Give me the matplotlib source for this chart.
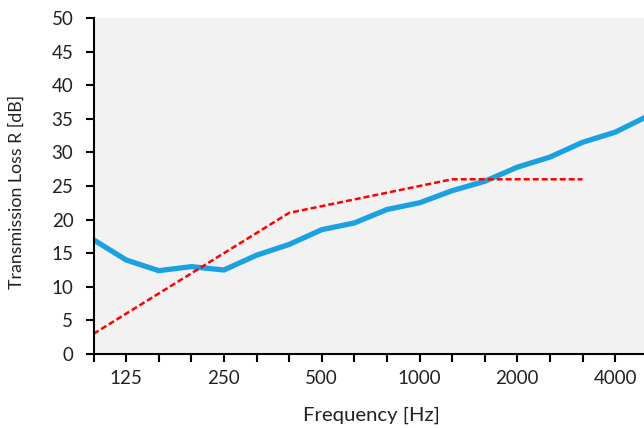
import matplotlib
matplotlib.use("Agg")
import matplotlib.pyplot as plt
import numpy as np

plt.rcParams['font.family'] = ['Lato', 'DejaVu Sans']

# third-octave bands
bands = [100, 125, 160, 200, 250, 315, 400, 500, 630, 800,
         1000, 1250, 1600, 2000, 2500, 3150, 4000, 5000]
measured = [17.0, 14.0, 12.4, 13.0, 12.5, 14.7, 16.3, 18.5, 19.5, 21.5,
            22.5, 24.3, 25.7, 27.8, 29.3, 31.5, 33.0, 35.4]
# shifted reference curve, 100 .. 3150 Hz
reference = [3, 6, 9, 12, 15, 18, 21, 22, 23, 24, 25, 26, 26, 26, 26, 26]

label_bands = [125, 250, 500, 1000, 2000, 4000]

fig = plt.figure(figsize=(6.44, 4.28), dpi=100)
# the plot area runs a bit past the right edge, like in the original
x0, step = 93.5, 32.6
left, bottom, top = x0 / 644, (428 - 354) / 428, (428 - 18) / 428
width = 17 * step / 644
ax = fig.add_axes([left, bottom, width, top - bottom])
ax.set_facecolor('#f2f2f2')

x = np.arange(len(bands))
ax.plot(x, measured, color='#1ba1e2', lw=3.8, solid_joinstyle='miter', zorder=3)
ax.plot(x[:len(reference)], reference, color='#ff0000', lw=1.8, ls=(0, (2.4, 1.2)), zorder=4)

ax.set_xlim(0, len(bands) - 1)
ax.set_ylim(0, 50)
ax.set_yticks(np.arange(0, 51, 5))
ax.set_xticks(x)
ax.set_xticklabels([str(b) if b in label_bands else '' for b in bands])

for s in ['top', 'right']:
    ax.spines[s].set_visible(False)
for s in ['left', 'bottom']:
    ax.spines[s].set_linewidth(1.5)
    ax.spines[s].set_color('black')
    ax.spines[s].set_zorder(5)

ax.tick_params(axis='both', direction='out', length=5.5, width=1.5, colors='black',
               labelsize=13.5, labelcolor='#222222')
ax.tick_params(axis='x', pad=6)
ax.tick_params(axis='y', pad=9)

ax.set_xlabel('Frequency [Hz]', fontsize=14.6, color='#222222')
ax.set_ylabel('Transmission Loss R [dB]', fontsize=12.8, color='#222222')
axw = 17 * step
ax.xaxis.set_label_coords((371 - x0) / axw, (428 - 415 - 74) / 336)
ax.xaxis.label.set_va('center')
ax.yaxis.set_label_coords((16.5 - x0) / axw, (428 - 192 - 74) / 336)
ax.yaxis.label.set_va('center')

fig.savefig('out.png', dpi=100)
